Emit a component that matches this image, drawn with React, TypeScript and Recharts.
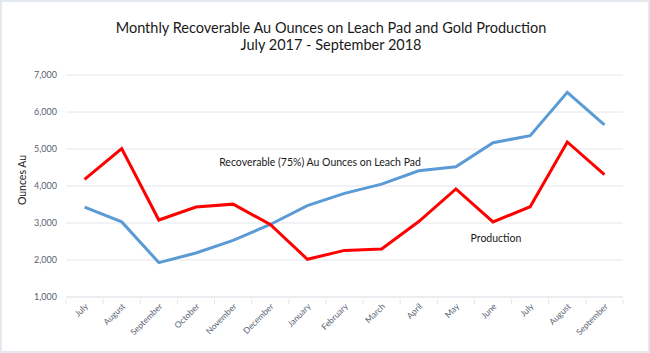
import React from 'react';
import { CartesianGrid, Line, LineChart, XAxis, YAxis } from 'recharts';

const months = [
  'July', 'August', 'September', 'October', 'November', 'December', 'January',
  'February', 'March', 'April', 'May', 'June', 'July', 'August', 'September'
];
const recoverable = [3430, 3030, 1930, 2190, 2530, 2960, 3470, 3800, 4050, 4410, 4520, 5170, 5360, 6530, 5650];
const production = [4180, 5010, 3080, 3430, 3510, 2960, 2020, 2260, 2300, 3040, 3920, 3030, 3440, 5190, 4310];
const yTicks = [1000, 2000, 3000, 4000, 5000, 6000, 7000];

const data = months.map((m, i) => ({
  key: i,
  month: m,
  recoverable: recoverable[i],
  production: production[i]
}));

const FONT = 'Lato, "Liberation Sans", sans-serif';
const TICK_COLOR = '#585f72';
const GRID = '#e3e6ec';
const BAND = (623 - 66) / months.length;

const MonthTick = (props: any) => {
  const { x, y, payload, index } = props;
  const half = BAND / 2;
  return (
    <g>
      <line x1={x - half} y1={y} x2={x - half} y2={y + 5} stroke={GRID} />
      {index === months.length - 1 && (
        <line x1={x + half} y1={y} x2={x + half} y2={y + 5} stroke={GRID} />
      )}
      <text
        x={x + 4}
        y={y + 8}
        textAnchor='end'
        transform={`rotate(-45 ${x + 4} ${y + 8})`}
        fontSize={8.5}
        fill={TICK_COLOR}
        fontFamily={FONT}
      >
        {months[payload.value] ?? payload.value}
      </text>
    </g>
  );
};

const label = (text: string, left: number, top: number, size: number, extra?: React.CSSProperties) => (
  <div
    style={{
      position: 'absolute',
      left,
      top,
      transform: 'translate(-50%, -50%)',
      fontSize: size,
      fontFamily: FONT,
      color: '#1a1a1a',
      whiteSpace: 'nowrap',
      ...extra
    }}
  >
    {text}
  </div>
);

export default function App() {
  return (
    <div
      style={{
        position: 'absolute',
        left: 0,
        top: 0,
        width: 650,
        height: 353,
        background: '#fff',
        border: '2px solid #e4e9ef',
        boxSizing: 'border-box',
        overflow: 'hidden'
      }}
    >
      <div style={{ position: 'absolute', left: -2, top: -2 }}>
        <LineChart width={650} height={353} data={data} margin={{ top: 75, right: 27, bottom: 0, left: 0 }}>
          <CartesianGrid vertical={false} stroke={GRID} strokeWidth={1} />
          <XAxis
            dataKey='key'
            type='category'
            interval={0}
            padding={{ left: BAND / 2, right: BAND / 2 }}
            axisLine={{ stroke: GRID }}
            tickLine={false}
            tickSize={0}
            tick={<MonthTick />}
            height={56}
          />
          <YAxis
            width={66}
            domain={[1000, 7000]}
            ticks={yTicks}
            axisLine={false}
            tickLine={false}
            tickSize={0}
            tickMargin={9}
            tickFormatter={(v: number) => v.toLocaleString('en-US')}
            tick={{ fontSize: 9, fill: TICK_COLOR, fontFamily: FONT }}
          />
          <Line dataKey='recoverable' stroke='#5b9bd5' strokeWidth={3} dot={false} isAnimationActive={false} />
          <Line dataKey='production' stroke='#ff0000' strokeWidth={3} dot={false} isAnimationActive={false} />
        </LineChart>
      </div>
      {label('Monthly Recoverable Au Ounces on Leach Pad and Gold Production', 329, 25, 14.5)}
      {label('July 2017 - September 2018', 329, 42, 14.5)}
      {label('Recoverable (75%) Au Ounces on Leach Pad', 318, 160, 10.5)}
      {label('Production', 494, 236, 10.5)}
      {label('Ounces Au', 20, 178, 10.5, { transform: 'translate(-50%, -50%) rotate(-90deg)' })}
    </div>
  );
}
